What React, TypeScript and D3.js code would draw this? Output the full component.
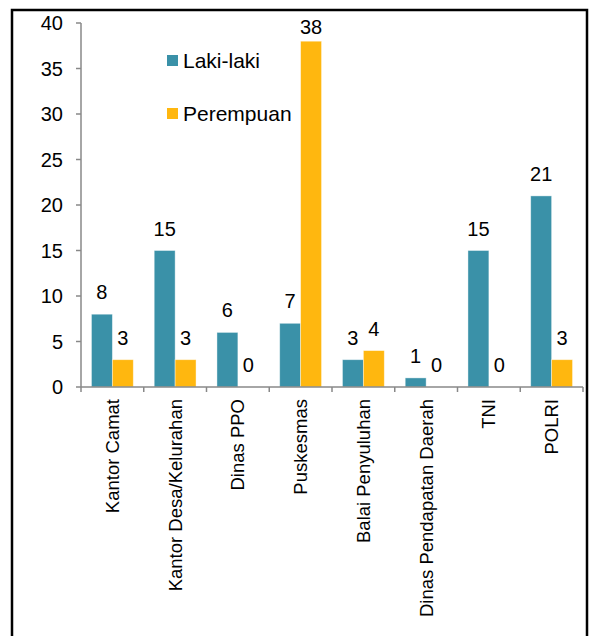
import React from 'react';
import * as d3 from 'd3';

// data
const categories = [
  'Kantor Camat',
  'Kantor Desa/Kelurahan',
  'Dinas PPO',
  'Puskesmas',
  'Balai Penyuluhan',
  'Dinas Pendapatan Daerah',
  'TNI',
  'POLRI',
];
const lakiLaki = [8, 15, 6, 7, 3, 1, 15, 21];
const perempuan = [3, 3, 0, 38, 4, 0, 0, 3];
const seriesNames = ['Laki-laki', 'Perempuan'];
const yTicks = [0, 5, 10, 15, 20, 25, 30, 35, 40];

const colors = ['#3A91A8', '#FFB70F'];
const font = '"Liberation Sans", Arial, sans-serif';

const W = 590;
const H = 636;
const left = 81;
const right = 583;
const top = 23;
const bottom = 387;

const App: React.FC = () => {
  const x = d3.scaleBand().domain(categories).range([left, right]);
  const inner = d3
    .scaleBand()
    .domain(seriesNames)
    .range([0, x.bandwidth()])
    .paddingOuter(0.5);
  const y = d3.scaleLinear().domain([0, 40]).range([bottom, top]);
  const series = [lakiLaki, perempuan];

  return (
    <svg
      width={W}
      height={H}
      style={{ position: 'absolute', left: 0, top: 0 }}
      fontFamily={font}
    >
      <rect width={W} height={H} fill="#fff" />
      {/* frame */}
      <path d={`M12,${H + 5} V10 H587 V${H + 5}`} fill="none" stroke="#000" strokeWidth={2.5} />

      {/* bars */}
      {series.map((vals, s) =>
        vals.map((v, i) => {
          const bx = x(categories[i])! + inner(seriesNames[s])!;
          const bw = inner.bandwidth();
          // labels near the top are kept inside the plot area
          const ly = Math.max(y(v) - 15, top + 11);
          return (
            <g key={`${s}-${i}`}>
              <rect
                x={bx}
                y={y(v)}
                width={bw}
                height={bottom - y(v)}
                fill={colors[s]}
                stroke="#ffffff"
                strokeOpacity={0.5}
                strokeWidth={0.8}
              />
              <text x={bx + bw / 2} y={ly} textAnchor="middle" fontSize={20} fill="#000">
                {v}
              </text>
            </g>
          );
        })
      )}

      {/* y axis */}
      <line x1={left} x2={left} y1={top} y2={bottom} stroke="#888" strokeWidth={1.5} />
      {yTicks.map((t) => (
        <g key={t}>
          <line x1={left - 5} x2={left} y1={y(t)} y2={y(t)} stroke="#888" strokeWidth={1.5} />
          <text x={63} y={y(t)} dy="0.35em" textAnchor="end" fontSize={20}>
            {t}
          </text>
        </g>
      ))}

      {/* x axis */}
      <line x1={left} x2={right} y1={bottom} y2={bottom} stroke="#888" strokeWidth={1.5} />
      {[...categories.map((c) => x(c)!), right].map((px, i) => (
        <line key={i} x1={px} x2={px} y1={bottom} y2={bottom + 5} stroke="#888" strokeWidth={1.5} />
      ))}
      {categories.map((c) => (
        <text
          key={c}
          transform={`translate(${x(c)! + x.bandwidth() / 2},399) rotate(-90)`}
          textAnchor="end"
          dy="0.35em"
          fontSize={18.5}
        >
          {c}
        </text>
      ))}

      {/* legend */}
      {seriesNames.map((n, i) => (
        <g key={n} transform={`translate(167,${55 + i * 53})`}>
          <rect width={11} height={11} fill={colors[i]} />
          <text x={16} y={5.5} dy="0.35em" fontSize={21}>
            {n}
          </text>
        </g>
      ))}
    </svg>
  );
};

export default App;
